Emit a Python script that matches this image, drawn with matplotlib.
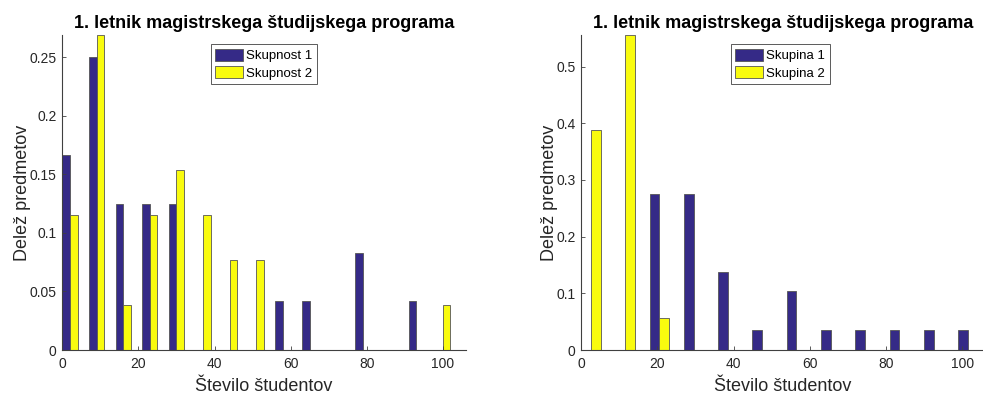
import matplotlib
matplotlib.use("Agg")
import matplotlib.pyplot as plt
import numpy as np

plt.rcParams['font.family'] = ['Liberation Sans', 'DejaVu Sans']

TITLE = "1. letnik magistrskega študijskega programa"
XLABEL = "Število študentov"
YLABEL = "Delež predmetov"

# Left panel: 15 histogram bins (bin centres) and relative frequencies
left_centers = [2, 9, 16, 23, 30, 37, 44, 51, 58, 65, 72, 79, 86, 93, 100]
left_group1 = [0.1667, 0.25, 0.125, 0.125, 0.125, 0, 0, 0,
               0.0417, 0.0417, 0, 0.0833, 0, 0.0417, 0]
left_group2 = [0.1154, 0.2692, 0.0385, 0.1154, 0.1538, 0.1154, 0.0769, 0.0769,
               0, 0, 0, 0, 0, 0, 0.0385]
left_names = ["Skupnost 1", "Skupnost 2"]
left_yticks = [0, 0.05, 0.1, 0.15, 0.2, 0.25]
left_yticklabels = ["0", "0.05", "0.1", "0.15", "0.2", "0.25"]

# Right panel: 12 histogram bins
right_centers = [2.5, 11.5, 20.5, 29.5, 38.5, 47.5, 56.5, 65.5, 74.5, 83.5, 92.5, 101.5]
right_group1 = [0, 0, 0.2759, 0.2759, 0.1379, 0.0345, 0.1034, 0.0345,
                0.0345, 0.0345, 0.0345, 0.0345]
right_group2 = [0.3889, 0.5556, 0.0556, 0, 0, 0, 0, 0, 0, 0, 0, 0]
right_names = ["Skupina 1", "Skupina 2"]
right_yticks = [0, 0.1, 0.2, 0.3, 0.4, 0.5]
right_yticklabels = ["0", "0.1", "0.2", "0.3", "0.4", "0.5"]

xticks = [0, 20, 40, 60, 80, 100]
xticklabels = ["0", "20", "40", "60", "80", "100"]

C1 = "#352a87"
C2 = "#f9fb0e"
AX = "#404040"

fig = plt.figure(figsize=(9.83, 3.94), dpi=100)
W, H = 983, 394


def panel(rect, centers, g1, g2, names, yticks, yticklabels, legend_x):
    ax = fig.add_axes(rect)
    centers = np.asarray(centers, float)
    step = centers[1] - centers[0]
    w = step * 2 / 7.0
    ax.bar(centers - w / 2, g1, width=w, color=C1, edgecolor="#555555",
           linewidth=0.6, label=names[0])
    ax.bar(centers + w / 2, g2, width=w, color=C2, edgecolor="#555555",
           linewidth=0.6, label=names[1])
    ax.set_xlim(0, 106)
    ax.set_ylim(0, max(max(g1), max(g2)))
    ax.set_xticks(xticks)
    ax.set_xticklabels(xticklabels)
    ax.set_yticks(yticks)
    ax.set_yticklabels(yticklabels)
    for s in ("top", "right"):
        ax.spines[s].set_visible(False)
    for s in ("left", "bottom"):
        ax.spines[s].set_color(AX)
        ax.spines[s].set_linewidth(0.8)
    ax.tick_params(direction="in", length=3, width=0.6, colors=AX,
                   labelsize=10, labelcolor="#262626", pad=4)
    ax.tick_params(axis="x", pad=5)
    ax.set_title(TITLE, fontsize=13, fontweight="bold", pad=5)
    ax.set_xlabel(XLABEL, fontsize=13, color="#262626", labelpad=5)
    ax.set_ylabel(YLABEL, fontsize=13, color="#262626", labelpad=-1)
    leg = ax.legend(loc="upper left", bbox_to_anchor=(legend_x, 0.97),
                    borderaxespad=0, fontsize=9.5, handlelength=2.1,
                    handleheight=1.0, handletextpad=0.25, labelspacing=0.3,
                    borderpad=0.35, fancybox=False, framealpha=1)
    leg.get_frame().set_edgecolor(AX)
    leg.get_frame().set_linewidth(0.6)
    return ax


bottom = 1 - 350 / H
height = 315 / H
panel([62.3 / W, bottom, 403.4 / W, height], left_centers, left_group1,
      left_group2, left_names, left_yticks, left_yticklabels, 0.368)
panel([581.3 / W, bottom, 403.7 / W, height], right_centers, right_group1,
      right_group2, right_names, right_yticks, right_yticklabels, 0.37)

fig.savefig("out.png", dpi=100)
